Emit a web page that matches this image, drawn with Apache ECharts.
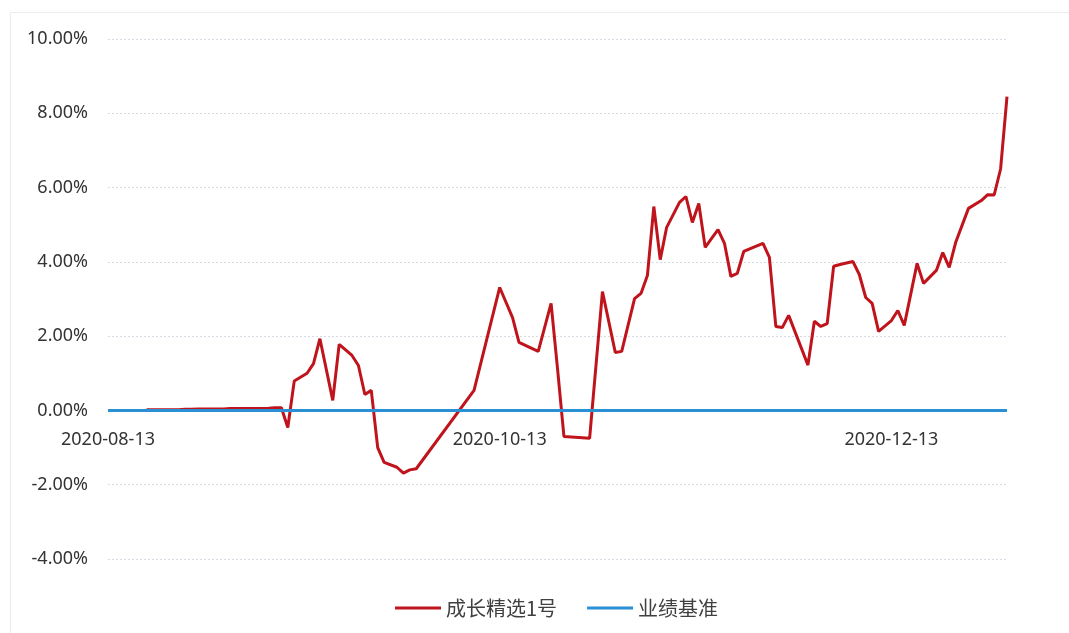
<!DOCTYPE html>
<html>
<head>
<meta charset="utf-8">
<script src="https://cdn.jsdelivr.net/npm/echarts@6/dist/echarts.min.js"></script>
<style>
html,body{margin:0;padding:0;background:#fff;}
#chart{width:1069px;height:633px;}
</style>
</head>
<body>
<div id="chart"></div>
<script>
// Calendar range of the x axis
const startDate = '2020-08-13';
const endDate = '2020-12-31';
const xTickLabels = ['2020-08-13', '2020-10-13', '2020-12-13'];
const yTicks = [-4, -2, 0, 2, 4, 6, 8, 10];

const seriesNames = ['成长精选1号', '业绩基准'];

// 成长精选1号 (% return)
const fundDates = [
  '2020-08-19','2020-08-20','2020-08-21','2020-08-24','2020-08-25','2020-08-26','2020-08-27','2020-08-28',
  '2020-08-31','2020-09-01','2020-09-02','2020-09-03','2020-09-04','2020-09-07','2020-09-08','2020-09-09',
  '2020-09-10','2020-09-11','2020-09-13','2020-09-14','2020-09-15','2020-09-17','2020-09-18','2020-09-20',
  '2020-09-21','2020-09-22','2020-09-23','2020-09-24','2020-09-25','2020-09-27','2020-09-28','2020-09-29',
  '2020-09-30','2020-10-09','2020-10-13','2020-10-15','2020-10-16','2020-10-19','2020-10-21','2020-10-22',
  '2020-10-23','2020-10-27','2020-10-29','2020-10-31','2020-11-01','2020-11-03','2020-11-04','2020-11-05',
  '2020-11-06','2020-11-07','2020-11-08','2020-11-10','2020-11-11','2020-11-12','2020-11-13','2020-11-14',
  '2020-11-15','2020-11-16','2020-11-17','2020-11-18','2020-11-19','2020-11-20','2020-11-23','2020-11-24',
  '2020-11-25','2020-11-26','2020-11-27','2020-11-30','2020-12-01','2020-12-02','2020-12-03','2020-12-04',
  '2020-12-05','2020-12-07','2020-12-08','2020-12-09','2020-12-10','2020-12-11','2020-12-13','2020-12-14',
  '2020-12-15','2020-12-17','2020-12-18','2020-12-20','2020-12-21','2020-12-22','2020-12-23','2020-12-25',
  '2020-12-27','2020-12-28','2020-12-29','2020-12-30','2020-12-31'
];
const fundValues = [
  0.02, 0.02, 0.02, 0.02, 0.03, 0.03, 0.04, 0.04,
  0.04, 0.05, 0.05, 0.05, 0.05, 0.06, 0.07, 0.07,
  -0.46, 0.79, 1.00, 1.26, 1.93, 0.27, 1.78, 1.48,
  1.21, 0.43, 0.54, -1.00, -1.40, -1.53, -1.69, -1.60,
  -1.57, 0.54, 3.31, 2.50, 1.83, 1.59, 2.88, 1.13,
  -0.70, -0.75, 3.20, 1.56, 1.59, 3.01, 3.15, 3.63,
  5.49, 4.06, 4.93, 5.60, 5.76, 5.06, 5.57, 4.39,
  4.63, 4.87, 4.50, 3.61, 3.69, 4.28, 4.50, 4.12,
  2.26, 2.23, 2.56, 1.22, 2.40, 2.26, 2.34, 3.88,
  3.93, 4.01, 3.66, 3.04, 2.88, 2.13, 2.42, 2.69,
  2.29, 3.96, 3.42, 3.77, 4.25, 3.85, 4.52, 5.44,
  5.65, 5.81, 5.80, 6.50, 8.45
];

// 业绩基准 (% return)
const benchDates = ['2020-08-13', '2020-10-13', '2020-12-13', '2020-12-31'];
const benchValues = [0, 0, 0, 0];

// ---- build calendar categories ----
function fmt(d) {
  const m = String(d.getUTCMonth() + 1).padStart(2, '0');
  const day = String(d.getUTCDate()).padStart(2, '0');
  return d.getUTCFullYear() + '-' + m + '-' + day;
}
const categories = [];
for (let t = Date.parse(startDate + 'T00:00:00Z'); t <= Date.parse(endDate + 'T00:00:00Z'); t += 86400000) {
  categories.push(fmt(new Date(t)));
}
function toSeries(dates, values) {
  const map = {};
  dates.forEach((d, i) => { map[d] = values[i]; });
  return categories.map(c => (c in map ? map[c] : null));
}

const chart = echarts.init(document.getElementById('chart'), null, { renderer: 'canvas' });
chart.setOption({
  backgroundColor: '#ffffff',
  animation: false,
  graphic: [{
    type: 'rect',
    shape: { x: 10.5, y: 12.5, width: 1080, height: 700 },
    style: { fill: 'none', stroke: '#ececec', lineWidth: 1 },
    silent: true
  }],
  grid: { left: 108, right: 62, top: 39, bottom: 74, containLabel: false },
  legend: {
    data: seriesNames,
    left: 390,
    top: 593,
    icon: 'rect',
    itemWidth: 46,
    itemHeight: 3,
    itemGap: 30,
    textStyle: { fontSize: 20, color: '#404040', fontFamily: 'Noto Sans CJK SC' }
  },
  xAxis: {
    type: 'category',
    data: categories,
    boundaryGap: false,
    axisLine: { show: false, onZero: false },
    axisTick: { show: false },
    splitLine: { show: false },
    axisLabel: {
      interval: 0,
      formatter: v => (xTickLabels.indexOf(v) >= 0 ? v : ''),
      fontSize: 18,
      color: '#333333',
      margin: -128,
      fontFamily: 'Noto Sans'
    }
  },
  yAxis: {
    type: 'value',
    min: yTicks[0],
    max: yTicks[yTicks.length - 1],
    interval: 2,
    axisLine: { show: false },
    axisTick: { show: false },
    axisLabel: {
      formatter: v => v.toFixed(2) + '%',
      fontSize: 18,
      color: '#333333',
      margin: 20,
      fontFamily: 'Noto Sans'
    },
    splitLine: { lineStyle: { color: '#d6dae4', type: [2, 2], width: 1 } }
  },
  series: [
    {
      name: seriesNames[0],
      type: 'line',
      data: toSeries(fundDates, fundValues),
      connectNulls: true,
      showSymbol: false,
      symbol: 'none',
      z: 3,
      lineStyle: { color: '#c0141c', width: 3 },
      itemStyle: { color: '#c0141c' }
    },
    {
      name: seriesNames[1],
      type: 'line',
      data: toSeries(benchDates, benchValues),
      connectNulls: true,
      showSymbol: false,
      symbol: 'none',
      z: 4,
      lineStyle: { color: '#2b8fd3', width: 3 },
      itemStyle: { color: '#2b8fd3' }
    }
  ]
});
</script>
</body>
</html>
